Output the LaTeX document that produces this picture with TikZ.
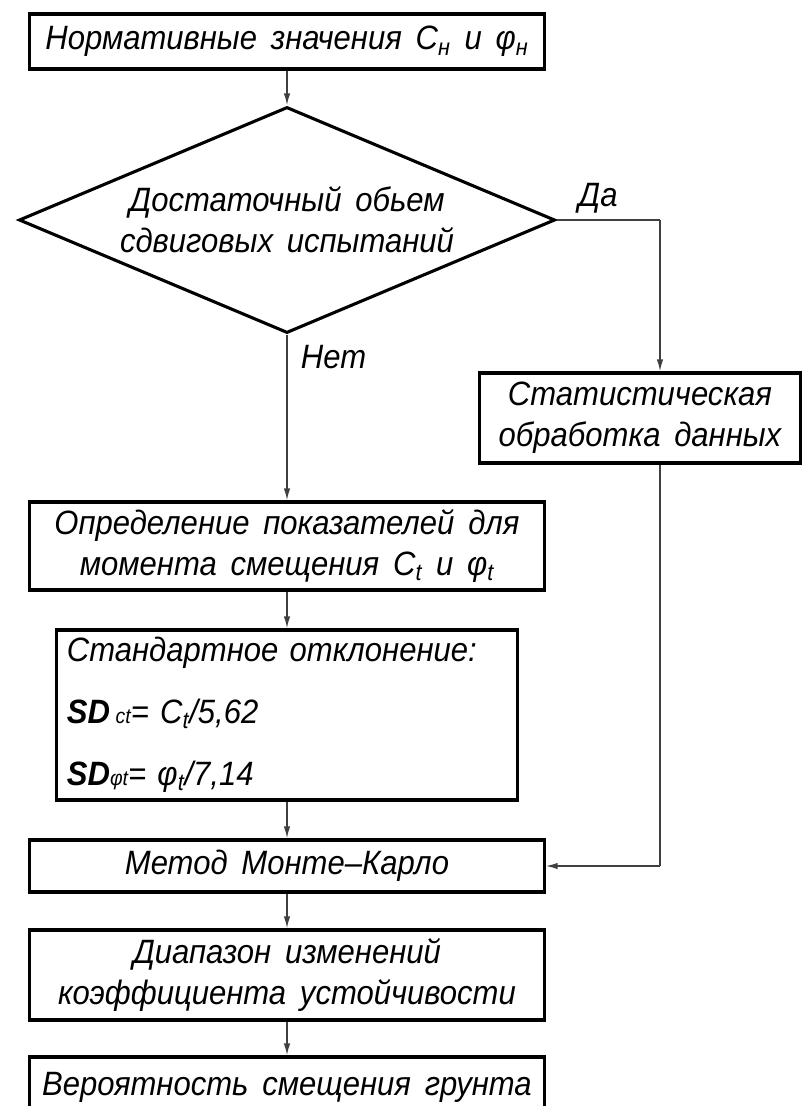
\documentclass[tikz,border=0pt]{standalone}
\usepackage{fontspec}
\setmainfont{Liberation Sans}[WordSpace=1.6, FakeStretch=0.92]
\usetikzlibrary{arrows.meta,shapes.geometric}

\newcommand{\idx}[1]{\textsubscript{#1}}
\newcommand{\smalltxt}[1]{{\fontsize{15}{18}\selectfont #1}}

\begin{document}
\begin{tikzpicture}[x=0.025cm, y=-0.025cm,
  font=\fontsize{24}{29}\selectfont\itshape,
  block/.style={draw, line width=2.2pt, align=center, inner sep=2pt, minimum width=12.85cm},
  flow/.style={black!75, line width=1.1pt, -{Latex[length=3mm, width=1.6mm]}},
  link/.style={black!75, line width=1.1pt}]
  \useasboundingbox (0,0) rectangle (804,1106);

  % left column
  \node[block, minimum height=1.375cm] (norm) at (287,41.5) {Нормативные значения C\idx{н} и φ\idx{н}};
  \node[draw, diamond, aspect=2.37, inner sep=0pt, line width=2.2pt, align=center, minimum width=13.4cm, minimum height=5.65cm] (enough) at (287,220) {Достаточный обьем\\сдвиговых испытаний};
  \node[block, minimum height=2.2cm] (params) at (287,546) {Определение показателей для\\момента смещения C\idx{t} и φ\idx{t}};
  \node[block, minimum width=11.5cm, minimum height=4.25cm, align=left, text width=11cm] (stdev) at (287,715)
    {Стандартное отклонение:\\[15pt]
     {\bfseries SD}\,\smalltxt{ct}= C\idx{t}/5,62\\[15pt]
     {\bfseries SD}\smalltxt{φt}= φ\idx{t}/7,14};
  \node[block, minimum height=1.3cm] (monte) at (287,866) {Метод Монте–Карло};
  \node[block, minimum height=2.25cm] (range) at (287,975) {Диапазон изменений\\коэффициента устойчивости};
  \node[block, minimum height=1.5cm] (prob) at (287,1087) {Вероятность смещения грунта};

  % right branch
  \node[block, minimum width=8.03cm, minimum height=2.25cm] (stat) at (640,418) {Статистическая\\обработка данных};
  \coordinate (yes) at (660,220);
  \coordinate (join) at (660,866);

  \node (lyes) at (598,198) {Да};
  \node[anchor=west] (lno) at (296,357) {Нет};

  \draw[flow] (norm) -- (enough);
  \draw[flow] (enough.south) -- (params.north);
  \draw[link] (enough.east) -- (yes);
  \draw[flow] (yes) -- (yes |- stat.north);
  \draw[flow] (params) -- (stdev);
  \draw[flow] (stdev) -- (monte);
  \draw[link] (stat.south -| yes) -- (join);
  \draw[flow] (join) -- (monte.east);
  \draw[flow] (monte) -- (range);
  \draw[flow] (range) -- (prob);
\end{tikzpicture}
\end{document}
